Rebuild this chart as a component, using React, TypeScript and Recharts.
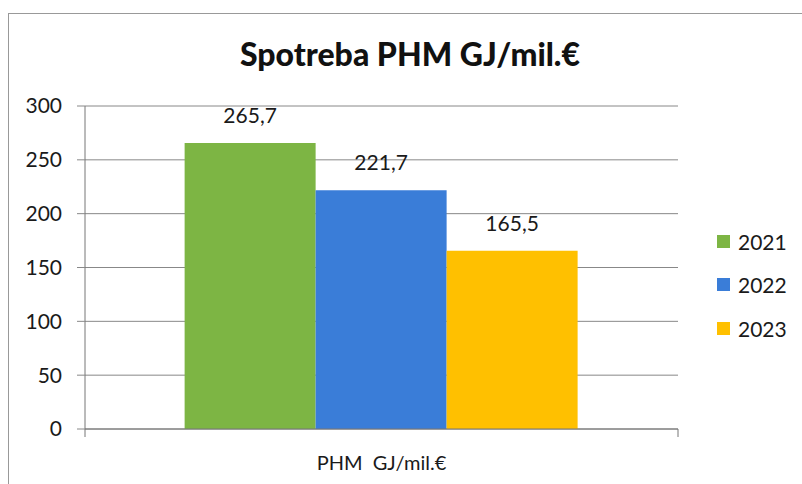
import React from "react";
import {
  BarChart,
  Bar,
  XAxis,
  YAxis,
  CartesianGrid,
  LabelList,
} from "recharts";

const categories = ["PHM\u00a0 GJ/mil.€"];
const years = ["2021", "2022", "2023"];
const values2021 = [265.7];
const values2022 = [221.7];
const values2023 = [165.5];
const yTicks = [0, 50, 100, 150, 200, 250, 300];
const colors = ["#7DB544", "#3A7DD8", "#FFC000"];

const seriesValues = [values2021, values2022, values2023];

const data = categories.map((category, i) => {
  const row: Record<string, string | number> = { category };
  years.forEach((year, j) => {
    row[year] = seriesValues[j][i];
  });
  return row;
});

const FONT = "Lato, 'Open Sans', sans-serif";

const formatComma = (v: unknown) => String(v).replace(".", ",");

function CategoryTick(props: any) {
  const { x, y, payload, width } = props;
  const half = payload && payload.offset ? payload.offset : width / 2;
  return (
    <g>
      <line x1={x - half} y1={y - 8} x2={x - half} y2={y} stroke="#777" />
      <line x1={x + half} y1={y - 8} x2={x + half} y2={y} stroke="#777" />
      <text
        x={x}
        y={y + 33}
        textAnchor="middle"
        fill="#1a1a1a"
        fontSize={20}
        fontFamily={FONT}
      >
        {payload.value}
      </text>
    </g>
  );
}

export default function App() {
  return (
    <div
      style={{
        position: "absolute",
        left: 0,
        top: 0,
        width: 802,
        height: 484,
        overflow: "hidden",
        background: "#fff",
        fontFamily: FONT,
      }}
    >
      <div
        style={{
          position: "absolute",
          left: 8,
          top: 13,
          width: 830,
          height: 520,
          border: "1px solid #999",
        }}
      />
      <div
        style={{
          position: "absolute",
          left: 0,
          top: 34,
          width: 820,
          textAlign: "center",
          fontSize: 32,
          fontWeight: 900,
          color: "#111",
          lineHeight: "40px",
        }}
      >
        Spotreba PHM GJ/mil.€
      </div>
      <div style={{ position: "absolute", left: 0, top: 0 }}>
        <BarChart
          width={802}
          height={484}
          data={data}
          margin={{ top: 106, right: 124, bottom: 15, left: 0 }}
          barCategoryGap="16.8%"
          barGap={0}
        >
          <CartesianGrid vertical={false} stroke="#888" />
          <XAxis
            dataKey="category"
            axisLine={{ stroke: "#777" }}
            tickLine={false}
            tickSize={8}
            tickMargin={0}
            height={40}
            tick={<CategoryTick />}
          />
          <YAxis
            width={85}
            domain={[0, 300]}
            ticks={yTicks}
            interval={0}
            axisLine={{ stroke: "#777" }}
            tickLine={{ stroke: "#888" }}
            tickSize={8}
            tickMargin={15}
            tick={{ fill: "#1a1a1a", fontSize: 21, fontFamily: FONT }}
          />
          {years.map((year, j) => (
            <Bar
              key={year}
              dataKey={year}
              fill={colors[j]}
              isAnimationActive={false}
            >
              <LabelList
                dataKey={year}
                position="top"
                offset={20}
                formatter={formatComma}
                fill="#1a1a1a"
                fontSize={21}
                fontFamily={FONT}
              />
            </Bar>
          ))}
        </BarChart>
      </div>
      {years.map((year, j) => (
        <div
          key={year}
          style={{
            position: "absolute",
            left: 717,
            top: 227 + j * 43.5,
            height: 28,
            display: "flex",
            alignItems: "center",
            fontSize: 21,
            color: "#1a1a1a",
          }}
        >
          <span
            style={{
              display: "inline-block",
              width: 13,
              height: 13,
              background: colors[j],
              marginRight: 8,
            }}
          />
          {year}
        </div>
      ))}
    </div>
  );
}
